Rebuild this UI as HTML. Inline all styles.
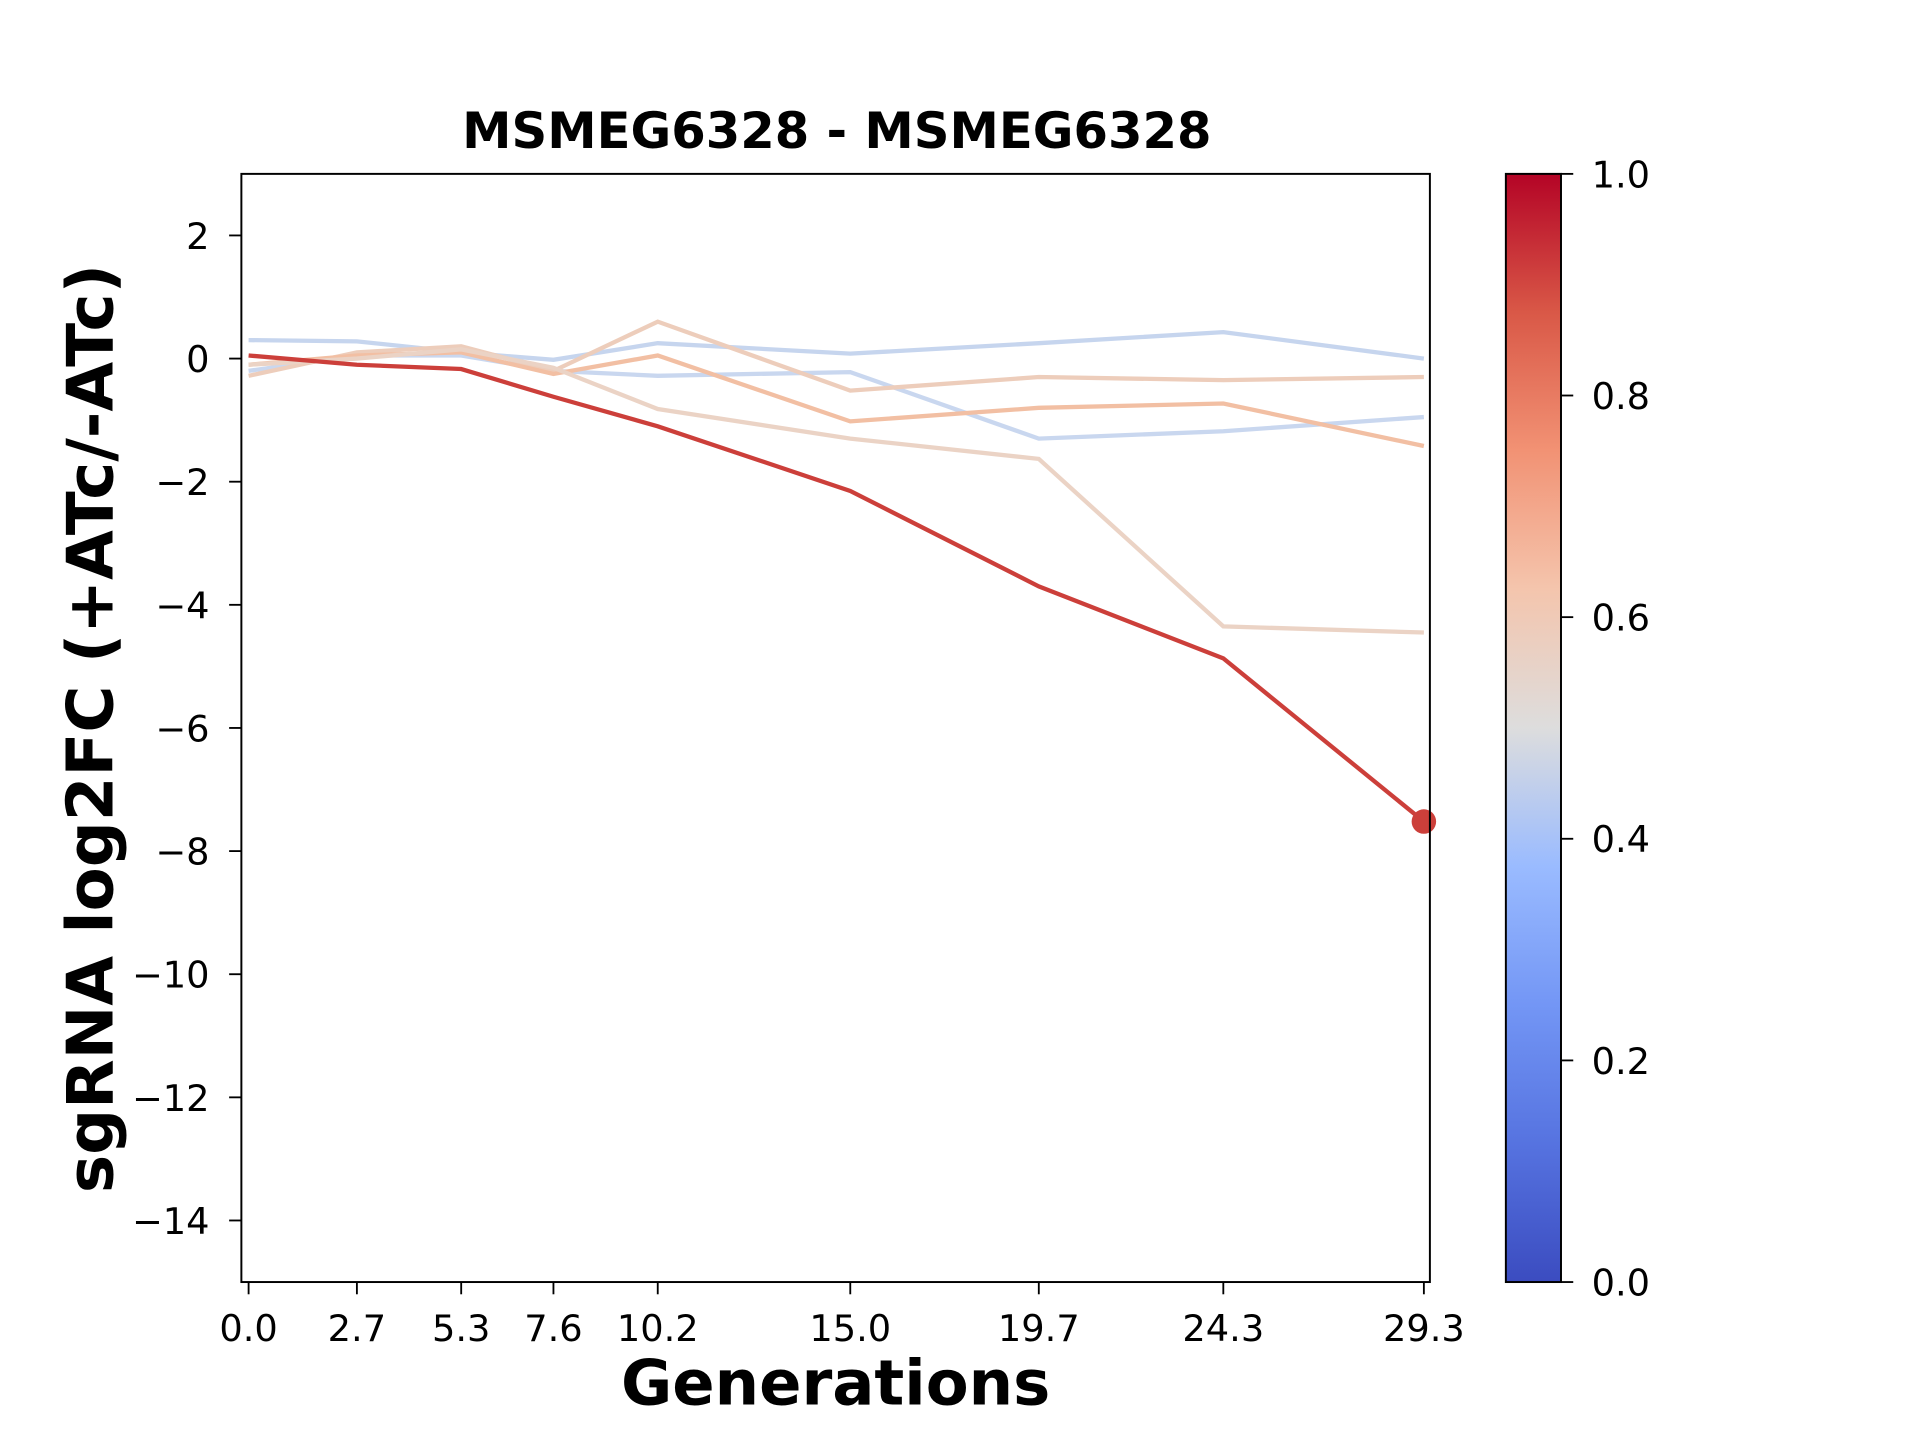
<!DOCTYPE html>
<html><head><meta charset="utf-8"><style>
html,body{margin:0;padding:0;background:#fff}
svg{display:block;font-family:"DejaVu Sans","Liberation Sans",sans-serif}
</style></head><body>
<svg id="chart" width="1920" height="1440" viewBox="0 0 1567 1176" preserveAspectRatio="none" xmlns="http://www.w3.org/2000/svg">
<defs><linearGradient id="cw" x1="0" y1="1" x2="0" y2="0">
<stop offset="0" stop-color="#3b4cc0"/><stop offset="0.125" stop-color="#5673e0"/><stop offset="0.25" stop-color="#7396f5"/><stop offset="0.375" stop-color="#9abbff"/><stop offset="0.5" stop-color="#dddddd"/><stop offset="0.625" stop-color="#f4c5ad"/><stop offset="0.75" stop-color="#f29274"/><stop offset="0.875" stop-color="#d95847"/><stop offset="1" stop-color="#b40426"/>
</linearGradient></defs>
<text x="683" y="121" font-size="40.5" font-weight="bold" text-anchor="middle">MSMEG6328 - MSMEG6328</text>
<g id="plot"></g>
<rect x="197" y="142" width="970" height="905" fill="none" stroke="#000" stroke-width="1.6"/>
<text x="682" y="1147" font-size="51" font-weight="bold" text-anchor="middle">Generations</text>
<text transform="translate(92,595) rotate(-90)" font-size="52.5" font-weight="bold" text-anchor="middle">sgRNA log2FC (+ATc/-ATc)</text>
<rect x="1229" y="142" width="45" height="905" fill="url(#cw)" stroke="#000" stroke-width="1.6"/>
<g id="cbticks"></g>
</svg>
<script>
const xTicks=[0,2.7,5.3,7.6,10.2,15.0,19.7,24.3,29.3];
const xTickLabels=["0.0","2.7","5.3","7.6","10.2","15.0","19.7","24.3","29.3"];
const yTicks=[2,0,-2,-4,-6,-8,-10,-12,-14];
const cbTicks=[0,0.2,0.4,0.6,0.8,1.0];
const seriesColors=["#c6d5ee","#c9d7ef","#edcdbb","#f2bfa3","#ebd3c5","#cc3f3a"];
const sBlue1=[0.3,0.28,0.1,-0.02,0.25,0.08,0.25,0.43,0.0];
const sBlue2=[-0.2,0.05,0.05,-0.2,-0.28,-0.22,-1.3,-1.18,-0.95];
const sPeach1=[-0.28,0.1,0.2,-0.2,0.6,-0.52,-0.3,-0.35,-0.3];
const sPeach2=[-0.1,0.05,0.1,-0.25,0.05,-1.02,-0.8,-0.73,-1.42];
const sPeach3=[-0.1,0.0,0.15,-0.15,-0.82,-1.3,-1.63,-4.35,-4.45];
const sRed=[0.05,-0.1,-0.17,-0.62,-1.1,-2.15,-3.7,-4.87,-7.52];
const NS="http://www.w3.org/2000/svg";
const X0=197,X1=1167,Y0=142,Y1=1047,xmin=-0.18,xmax=29.45,ymin=-15,ymax=3;
const xs=v=>X0+(v-xmin)/(xmax-xmin)*(X1-X0);
const ys=v=>Y1-(v-ymin)/(ymax-ymin)*(Y1-Y0);
const plot=document.getElementById('plot');
function mk(t,a){const e=document.createElementNS(NS,t);for(const k in a)e.setAttribute(k,a[k]);return e;}
const all=[sBlue1,sBlue2,sPeach1,sPeach2,sPeach3,sRed];
const names=["series-blue-1","series-blue-2","series-peach-1","series-peach-2","series-peach-3","series-red"];
all.forEach((s,i)=>{
 const p=mk('polyline',{points:s.map((v,j)=>xs(xTicks[j])+','+ys(v)).join(' '),fill:'none',stroke:seriesColors[i],'stroke-width':3.5});
 
 
 plot.appendChild(p);
});
const last=sRed.length-1;
const m=mk('circle',{cx:xs(xTicks[last]),cy:ys(sRed[last]),r:10,fill:'#cc3f3a'});


plot.appendChild(m);
const svg=document.getElementById('chart');
xTicks.forEach((v,i)=>{
 const l=mk('line',{x1:xs(v),x2:xs(v),y1:Y1,y2:Y1+10,stroke:'#000','stroke-width':1.5});
 
 
 svg.appendChild(l);
 const t=mk('text',{x:xs(v),y:Y1+48,'font-size':30,'text-anchor':'middle'});
 t.textContent=xTickLabels[i];
 
 
 svg.appendChild(t);
});
yTicks.forEach(v=>{
 const l=mk('line',{x1:X0-10,x2:X0,y1:ys(v),y2:ys(v),stroke:'#000','stroke-width':1.5});
 
 
 svg.appendChild(l);
 const t=mk('text',{x:X0-26,y:ys(v)+11,'font-size':30,'text-anchor':'end'});
 t.textContent=v<0?'\u2212'+Math.abs(v):String(v);
 
 
 svg.appendChild(t);
});
const cb=document.getElementById('cbticks');
cbTicks.forEach(v=>{
 const y=1047-v*905;
 const l=mk('line',{x1:1274,x2:1284,y1:y,y2:y,stroke:'#000','stroke-width':1.5});
 
 
 cb.appendChild(l);
 const t=mk('text',{x:1299,y:y+11,'font-size':30});
 t.textContent=v.toFixed(1);
 
 
 cb.appendChild(t);
});
</script>
</body></html>
